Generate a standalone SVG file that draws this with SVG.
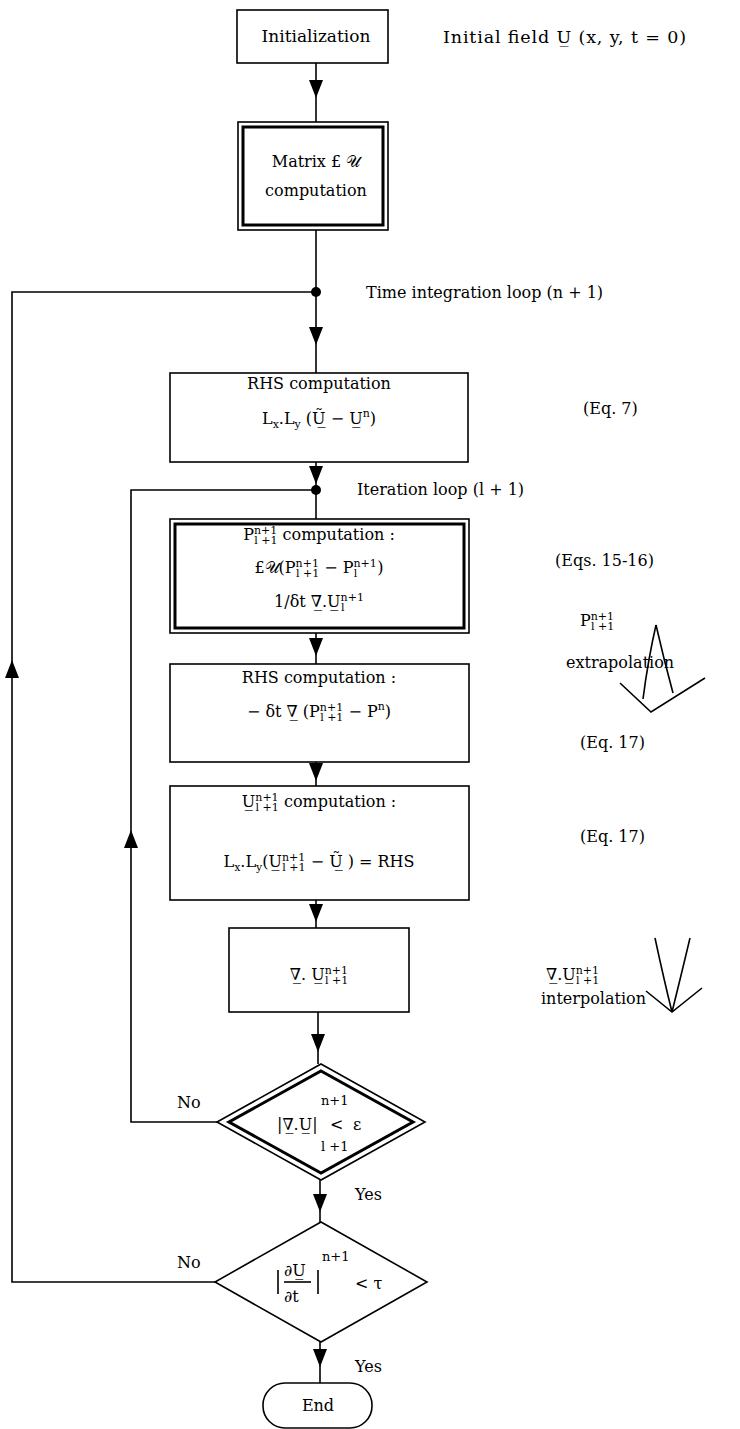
<svg xmlns="http://www.w3.org/2000/svg" width="740" height="1429" viewBox="0 0 740 1429">
<style>
.t{font-family:"DejaVu Serif","Liberation Serif",serif;font-size:16px;fill:#000}
.s{font-size:11px}
.d{font-size:13px}
.m{text-anchor:middle}
.box{fill:#fff;stroke:#000;stroke-width:1.6}
.in{fill:none;stroke:#000;stroke-width:3}
.ln{fill:none;stroke:#000;stroke-width:1.6}
</style>
<defs>
<path id="ah" d="M-7,-18 L7,-18 L0,0 Z" fill="#000"/>
</defs>
<rect width="740" height="1429" fill="#fff"/>
<g id="connectors">
<path class="ln" d="M316,63 V122"/><use href="#ah" x="316" y="98"/>
<path class="ln" d="M316,230 V373"/><use href="#ah" x="316" y="345"/>
<circle cx="316" cy="292" r="5"/>
<path class="ln" d="M316,462 V519"/><use href="#ah" x="316" y="484"/>
<circle cx="316" cy="490" r="5"/>
<path class="ln" d="M316,633 V664"/><use href="#ah" x="316" y="656"/>
<path class="ln" d="M316,762 V786"/><use href="#ah" x="316" y="781"/>
<path class="ln" d="M316,900 V928"/><use href="#ah" x="316" y="922"/>
<path class="ln" d="M318,1012 V1064"/><use href="#ah" x="318" y="1052"/>
<path class="ln" d="M320,1180 V1222"/><use href="#ah" x="320" y="1212"/>
<path class="ln" d="M320,1342 V1383"/><use href="#ah" x="320" y="1367"/>
<path class="ln" d="M316,292 H12 V1282 H215"/><use href="#ah" transform="translate(12,660) rotate(180)"/>
<path class="ln" d="M316,490 H131 V1122 H217"/><use href="#ah" transform="translate(131,830) rotate(180)"/>
</g>
<g id="init">
<rect class="box" x="237" y="10" width="151" height="53"/>
<text class="t m" x="316" y="42" style="font-size:17px">Initialization</text>
</g>
<text class="t" x="443" y="43" style="font-size:17.5px" textLength="243" lengthAdjust="spacing">Initial field U̲ (x, y, t = 0)</text>
<g id="matrix">
<rect class="box" x="238" y="122" width="150" height="108"/>
<rect class="in" x="243" y="127" width="140" height="98"/>
<text class="t m" x="316" y="167">Matrix £ 𝒰</text>
<text class="t m" x="316" y="196">computation</text>
</g>
<text class="t" x="366" y="298">Time integration loop (n + 1)</text>
<g id="rhs1">
<rect class="box" x="170" y="373" width="298" height="89"/>
<text class="t m" x="319" y="389">RHS computation</text>
<text class="t m" x="319" y="424">L<tspan class="s" dy="4">x</tspan><tspan dy="-4">.L</tspan><tspan class="s" dy="4">y</tspan><tspan dy="-4"> (Ũ̲ − U̲</tspan><tspan class="s" dy="-7">n</tspan><tspan dy="7">)</tspan></text>
</g>
<text class="t" x="583" y="414">(Eq. 7)</text>
<text class="t" x="357" y="495">Iteration loop (l + 1)</text>
<g id="pcomp">
<rect class="box" x="170" y="519" width="299" height="114"/>
<rect class="in" x="175" y="524" width="289" height="104"/>
<text class="t m" x="319" y="540">P<tspan class="s" dy="-6">n+1</tspan><tspan class="s" dx="-23" dy="10">l +1</tspan><tspan dy="-4"> computation :</tspan></text>
<text class="t m" x="319" y="573">£𝒰(P<tspan class="s" dy="-6">n+1</tspan><tspan class="s" dx="-23" dy="10">l +1</tspan><tspan dy="-4"> − P</tspan><tspan class="s" dy="-6">n+1</tspan><tspan class="s" dx="-23" dy="10">l</tspan><tspan dx="20" dy="-4">)</tspan></text>
<text class="t m" x="319" y="607">1/δt ∇̲.U̲<tspan class="s" dy="-6">n+1</tspan><tspan class="s" dx="-23" dy="10">l</tspan><tspan dx="20" dy="-4"> </tspan></text>
</g>
<text class="t" x="555" y="566">(Eqs. 15-16)</text>
<text class="t" x="580" y="626">P<tspan class="s" dy="-6">n+1</tspan><tspan class="s" dx="-23" dy="10">l +1</tspan></text>
<text class="t" x="566" y="668">extrapolation</text>
<path class="ln" d="M656,625 Q648,660 643,699 M656,625 Q664,660 673,693 M620,683 L651,712 L705,678"/>
<g id="rhs2">
<rect class="box" x="170" y="664" width="299" height="98"/>
<text class="t m" x="319" y="683">RHS computation :</text>
<text class="t m" x="319" y="717">− δt ∇̲ (P<tspan class="s" dy="-6">n+1</tspan><tspan class="s" dx="-23" dy="10">l +1</tspan><tspan dy="-4"> − P</tspan><tspan class="s" dy="-7">n</tspan><tspan dy="7">)</tspan></text>
</g>
<text class="t" x="580" y="748">(Eq. 17)</text>
<g id="ucomp">
<rect class="box" x="170" y="786" width="299" height="114"/>
<text class="t m" x="319" y="807">U̲<tspan class="s" dy="-6">n+1</tspan><tspan class="s" dx="-23" dy="10">l +1</tspan><tspan dy="-4"> computation :</tspan></text>
<text class="t m" x="319" y="867">L<tspan class="s" dy="4">x</tspan><tspan dy="-4">.L</tspan><tspan class="s" dy="4">y</tspan><tspan dy="-4">(U̲</tspan><tspan class="s" dy="-6">n+1</tspan><tspan class="s" dx="-23" dy="10">l +1</tspan><tspan dy="-4"> − Ũ̲ ) = RHS</tspan></text>
</g>
<text class="t" x="580" y="842">(Eq. 17)</text>
<g id="divu">
<rect class="box" x="229" y="928" width="180" height="84"/>
<text class="t m" x="319" y="980">∇̲. U̲<tspan class="s" dy="-6">n+1</tspan><tspan class="s" dx="-23" dy="10">l +1</tspan></text>
</g>
<text class="t" x="546" y="980">∇̲.U̲<tspan class="s" dy="-6">n+1</tspan><tspan class="s" dx="-23" dy="10">l +1</tspan></text>
<text class="t" x="541" y="1004">interpolation</text>
<path class="ln" d="M655,938 Q664,980 672,1012 M690,938 Q680,980 672,1012 M646,991 L672,1012 L702,988"/>
<g id="test1">
<polygon points="321,1064 425,1122 321,1180 217,1122" fill="#fff" stroke="#000" stroke-width="1.6"/>
<polygon points="321,1071 413,1122 321,1173 229,1122" fill="none" stroke="#000" stroke-width="3"/>
<text class="t" x="277" y="1130">|∇̲.U̲|</text>
<text class="t" x="330" y="1130">&lt;</text>
<text class="t" x="353" y="1130">ε</text>
<text class="t d" x="321" y="1105">n+1</text>
<text class="t d" x="321" y="1151">l +1</text>
</g>
<text class="t" x="177" y="1108">No</text>
<text class="t" x="355" y="1200">Yes</text>
<g id="test2">
<polygon points="321,1222 427,1282 321,1342 215,1282" fill="#fff" stroke="#000" stroke-width="1.6"/>
<text class="t" x="284" y="1276">∂U̲</text>
<line class="ln" x1="284" y1="1282" x2="311" y2="1282"/>
<text class="t" x="284" y="1302">∂t</text>
<line class="ln" x1="278" y1="1270" x2="278" y2="1294" stroke-width="1.2"/>
<line class="ln" x1="318" y1="1270" x2="318" y2="1294" stroke-width="1.2"/>
<text class="t d" x="322" y="1261">n+1</text>
<text class="t" x="355" y="1289">&lt; τ</text>
</g>
<text class="t" x="177" y="1268">No</text>
<text class="t" x="355" y="1372">Yes</text>
<g id="end">
<rect class="box" x="263" y="1383" width="109" height="45" rx="22"/>
<text class="t m" x="318" y="1411">End</text>
</g>
</svg>
